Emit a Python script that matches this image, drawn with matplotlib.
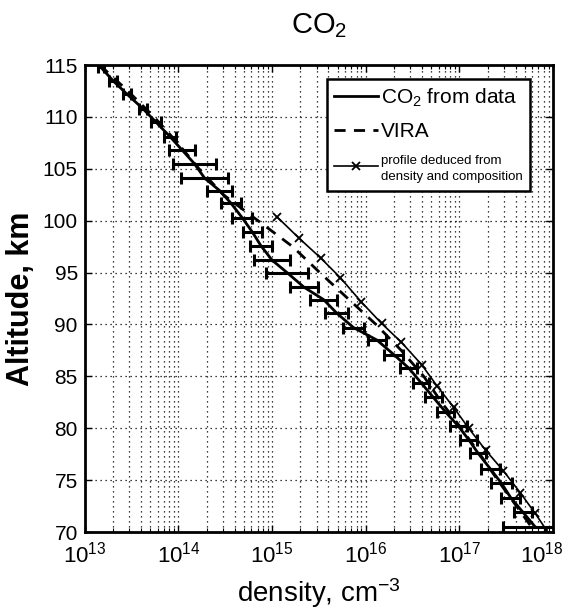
import numpy as np
import matplotlib
matplotlib.use("Agg")
import matplotlib.pyplot as plt
from matplotlib.ticker import LogLocator, FixedLocator, NullFormatter

plt.rcParams['font.family'] = ['Liberation Sans', 'DejaVu Sans']
plt.rcParams['mathtext.fontset'] = 'custom'
plt.rcParams['mathtext.rm'] = 'Liberation Sans'
plt.rcParams['mathtext.it'] = 'Liberation Sans:italic'
plt.rcParams['mathtext.bf'] = 'Liberation Sans:bold'

# CO2 number density retrieved from the measurements (log10 cm^-3)
data_alt = [114.8, 113.5, 112.2, 110.8, 109.5, 108.1, 106.8, 105.5, 104.1, 102.9,
            101.7, 100.3, 98.9, 97.6, 96.2, 95.0, 93.6, 92.4, 91.1, 89.7,
            88.5, 87.1, 85.8, 84.4, 83.0, 81.6, 80.2, 78.9, 77.6, 76.1,
            74.7, 73.3, 71.9, 70.5]
data_logn = [13.17, 13.30, 13.45, 13.62, 13.76, 13.91, 14.04, 14.17, 14.28, 14.44,
             14.56, 14.68, 14.79, 14.88, 15.00, 15.16, 15.34, 15.55, 15.69, 15.87,
             16.12, 16.30, 16.46, 16.59, 16.72, 16.85, 16.99, 17.10, 17.20, 17.33,
             17.45, 17.55, 17.68, 17.81]
# half-width of the uncertainty, in decades
data_err = [0.03, 0.04, 0.04, 0.04, 0.05, 0.06, 0.14, 0.23, 0.25, 0.13,
            0.11, 0.11, 0.10, 0.12, 0.19, 0.22, 0.15, 0.14, 0.12, 0.11,
            0.10, 0.10, 0.09, 0.09, 0.09, 0.09, 0.09, 0.09, 0.09, 0.10,
            0.11, 0.10, 0.10, 0.34]

# VIRA reference model
vira_alt = [115, 112.5, 110, 107.5, 105, 102.5, 100, 97.5, 95, 92.5,
            90, 87.5, 85, 82.5, 80, 77.5, 75, 72.5, 70]
vira_logn = [13.16, 13.46, 13.74, 13.99, 14.22, 14.48, 14.85, 15.22, 15.51, 15.81,
             16.11, 16.38, 16.62, 16.81, 17.02, 17.22, 17.41, 17.61, 17.81]

# profile deduced from total density and composition
prof_alt = [100.4, 98.3, 96.4, 94.5, 92.2, 90.1, 88.3, 86.1, 84.1, 82.0,
            80.0, 77.9, 75.9, 73.8, 71.8, 70.2]
prof_logn = [15.05, 15.29, 15.52, 15.73, 15.95, 16.17, 16.38, 16.60, 16.76, 16.94,
             17.10, 17.28, 17.47, 17.65, 17.81, 17.93]

x_decades = [13, 14, 15, 16, 17, 18]
y_ticks = [70, 75, 80, 85, 90, 95, 100, 105, 110, 115]

data_n = 10.0 ** np.array(data_logn)
err = np.array(data_err)
xerr = np.vstack([data_n - data_n / 10 ** err, data_n * 10 ** err - data_n])
vira_n = 10.0 ** np.array(vira_logn)
prof_n = 10.0 ** np.array(prof_logn)

fig = plt.figure(figsize=(5.73, 6.09), dpi=100)
ax = fig.add_axes([0.148, 0.1264, 0.817, 0.7668])

ax.errorbar(data_n, data_alt, xerr=xerr, fmt='none', ecolor='k',
            elinewidth=2.2, capsize=4, capthick=2.2, zorder=3)
l1, = ax.plot(data_n, data_alt, '-', color='k', lw=2.0, zorder=4,
              label='CO$_2$ from data')
l2, = ax.plot(vira_n, vira_alt, '--', color='k', lw=2.0, zorder=4,
              dashes=(4, 3), label='VIRA')
l3, = ax.plot(prof_n, prof_alt, '-', color='k', lw=1.2, marker='x',
              markersize=6, markeredgewidth=1.3, zorder=4,
              label='profile deduced from\ndensity and composition')

ax.set_xscale('log')
ax.set_xlim(1e13, 1e18)
ax.set_ylim(70, 115)
ax.yaxis.set_major_locator(FixedLocator(y_ticks))
ax.xaxis.set_major_locator(FixedLocator([10.0 ** k for k in x_decades]))
ax.xaxis.set_minor_locator(LogLocator(base=10, subs=np.arange(2, 10), numticks=20))
ax.xaxis.set_minor_formatter(NullFormatter())
ax.xaxis.set_major_formatter(NullFormatter())

grid_style = dict(color='k', linestyle=(0, (1, 3)), linewidth=0.9)
ax.grid(which='major', **grid_style)
ax.grid(which='minor', axis='x', **grid_style)
ax.set_axisbelow(True)

ax.tick_params(which='both', direction='in', top=True, right=True)
ax.tick_params(which='major', length=5, width=1)
ax.tick_params(which='minor', length=3, width=0.8)
ax.tick_params(axis='y', labelsize=15, pad=5)
for s in ax.spines.values():
    s.set_linewidth(2.0)

# decade labels under the x axis; the last one is nudged inward to stay on the page
for k in x_decades:
    dx = -8 if k == x_decades[-1] else 0
    ax.annotate(f'$10^{{{k}}}$', xy=(10.0 ** k, 0), xycoords=('data', 'axes fraction'),
                xytext=(dx, -7), textcoords='offset points',
                ha='center', va='top', fontsize=16)

ax.set_xlabel('density, cm$^{-3}$', fontsize=20, labelpad=28)
ax.set_ylabel('Altitude, km', fontsize=22, fontweight='bold', labelpad=5)
ax.set_title('CO$_2$', fontsize=21, pad=23)

leg = ax.legend(handles=[l1, l2, l3], loc='upper right',
                bbox_to_anchor=(0.951, 0.970), fontsize=15, frameon=True,
                fancybox=False, edgecolor='k', framealpha=1,
                handlelength=2.1, handletextpad=0.15, borderpad=0.35,
                labelspacing=0.65, borderaxespad=0)
leg.get_frame().set_linewidth(1.8)
t3 = leg.get_texts()[2]
t3.set_fontsize(9.5)
t3.set_linespacing(1.5)

fig.savefig('out.png', dpi=100)
